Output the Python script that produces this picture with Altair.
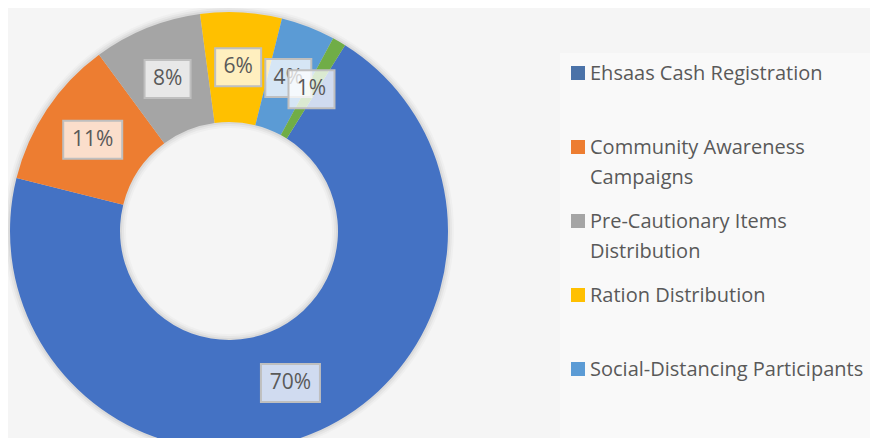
import math
import altair as alt
import pandas as pd

# ---- data ----
categories = ["Ehsaas Cash Registration", "Community Awareness Campaigns",
              "Pre-Cautionary Items Distribution", "Ration Distribution",
              "Social-Distancing Participants", "Others"]
values = [70, 11, 8, 6, 4, 1]
colors = ["#4472C4", "#ED7D31", "#A5A5A5", "#FFC000", "#5B9BD5", "#70AD47"]
legend_labels = ["Ehsaas Cash Registration", "Community Awareness\nCampaigns",
                 "Pre-Cautionary Items\nDistribution", "Ration Distribution",
                 "Social-Distancing Participants"]
legend_colors = ["#4A72A8", "#ED7D31", "#A5A5A5", "#FFC000", "#5B9BD5"]

# ---- layout ----
W, H = 862, 430
CX, CY = 221, 223
R_OUT, R_IN = 219, 109
R_LAB = (R_OUT + R_IN) / 2
THETA0 = math.radians(32)
FONT = "Open Sans"
TXT = "#595959"

df = pd.DataFrame({"category": categories, "value": values, "idx": list(range(len(categories)))})
leg = pd.DataFrame({"label": legend_labels, "color": legend_colors, "idx": list(range(len(legend_labels)))})

xs = alt.Scale(domain=[0, W], nice=False, zero=False)
ys = alt.Scale(domain=[0, H], nice=False, zero=False, reverse=True)

# faint background panel behind legend
panel = alt.Chart(pd.DataFrame({"k": [0]})).mark_rect(color="#f9f9f9").encode(
    x=alt.value(552), x2=alt.value(W), y=alt.value(45), y2=alt.value(H))

# soft shadow rings
shadows = []
for extra, op in [(6, 0.025), (4, 0.035), (2, 0.05)]:
    shadows.append(alt.Chart(pd.DataFrame({"k": [0]})).mark_arc(
        theta=0, theta2=2 * math.pi, radius=R_OUT + extra, radius2=R_IN - extra,
        color="#000000", opacity=op).encode(x=alt.value(CX), y=alt.value(CY)))

donut = alt.Chart(df).mark_arc(radius=R_OUT, radius2=R_IN).encode(
    theta=alt.Theta("value:Q", stack=True,
                    scale=alt.Scale(domain=[0, sum(values)], range=[THETA0, THETA0 + 2 * math.pi])),
    order=alt.Order("idx:Q"),
    color=alt.Color("category:N", scale=alt.Scale(domain=categories, range=colors), legend=None),
    x=alt.value(CX), y=alt.value(CY),
)

lab = (alt.Chart(df)
       .transform_window(cum="sum(value)", sort=[alt.SortField("idx")], frame=[None, 0])
       .transform_joinaggregate(total="sum(value)")
       .transform_calculate(mid=f"{THETA0} + (datum.cum - datum.value / 2) / datum.total * 2 * PI")
       .transform_calculate(lx=f"{CX} + {R_LAB} * sin(datum.mid)")
       .transform_calculate(ly=f"{CY} - {R_LAB} * cos(datum.mid)")
       .transform_calculate(txt="format(datum.value / datum.total * 100, '.0f') + '%'")
       .transform_calculate(bw="length(datum.txt) * 13 + 20")
       .transform_calculate(x1="datum.lx - datum.bw / 2", x2="datum.lx + datum.bw / 2",
                            y1="datum.ly - 19", y2="datum.ly + 19"))

label_layers = []
for i in range(len(categories)):
    sub = lab.transform_filter(f"datum.idx == {i}")
    box = sub.mark_rect(fill="#ffffff", fillOpacity=0.75, stroke="#BFBFBF", strokeWidth=2).encode(
        x=alt.X("x1:Q", scale=xs, axis=None), x2="x2:Q",
        y=alt.Y("y1:Q", scale=ys, axis=None), y2="y2:Q")
    txt = sub.mark_text(font=FONT, fontSize=21, color=TXT, align="center", baseline="middle").encode(
        x=alt.X("lx:Q", scale=xs, axis=None), y=alt.Y("ly:Q", scale=ys, axis=None), text="txt:N")
    label_layers += [box, txt]

legbase = alt.Chart(leg).transform_calculate(ly="65 + 74 * datum.idx").transform_calculate(
    ty="datum.ly + 7")
squares = legbase.mark_square(size=196, opacity=1).encode(
    x=alt.value(570), y=alt.Y("ly:Q", scale=ys, axis=None),
    color=alt.Color("color:N", scale=None))
legtext = legbase.mark_text(font=FONT, fontSize=20, color=TXT, align="left",
                            baseline="alphabetic", lineBreak="\n", lineHeight=30).encode(
    x=alt.value(582), y=alt.Y("ty:Q", scale=ys, axis=None), text="label:N")

chart = alt.layer(panel, *shadows, donut, *label_layers, squares, legtext).properties(
    width=W, height=H, background="#f5f5f5", padding=0, autosize="none"
).configure_view(stroke=None)

chart.save("out.html", embed_options={"renderer": "svg", "actions": False})
